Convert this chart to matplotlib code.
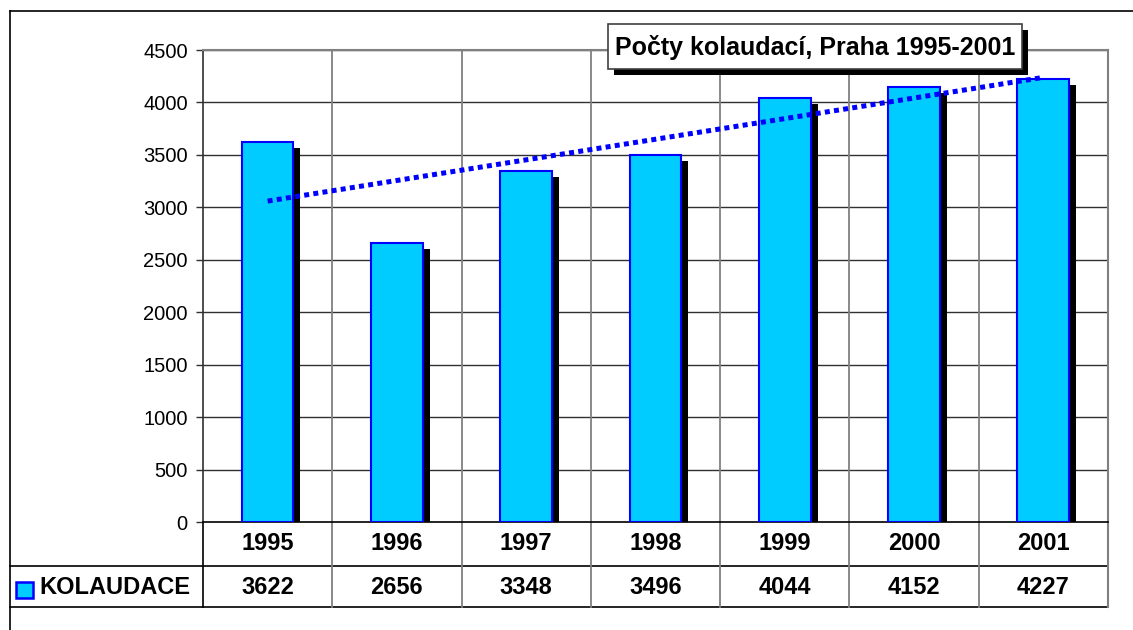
import numpy as np
import matplotlib
matplotlib.use("Agg")
import matplotlib.pyplot as plt
import matplotlib.transforms as mtransforms
from matplotlib.patches import Rectangle

years = ["1995", "1996", "1997", "1998", "1999", "2000", "2001"]
values = [3622, 2656, 3348, 3496, 4044, 4152, 4227]
series_name = "KOLAUDACE"
title = "Počty kolaudací, Praha 1995-2001"
yticks = [0, 500, 1000, 1500, 2000, 2500, 3000, 3500, 4000, 4500]

plt.rcParams['font.family'] = ['Liberation Sans', 'DejaVu Sans']

W, H = 1133, 630
fig = plt.figure(figsize=(W / 100, H / 100), dpi=100)
fig.patch.set_facecolor('white')

AX_L, AX_R, AX_T, AX_B = 203, 1108, 50, 522
ax = fig.add_axes([AX_L / W, 1 - AX_B / H, (AX_R - AX_L) / W, (AX_B - AX_T) / H])

n = len(years)
x = np.arange(n)
ax.set_xlim(-0.5, n - 0.5)
ax.set_ylim(0, 4500)

def fy(py):
    return (AX_B - py) / (AX_B - AX_T)

# gridlines
for v in yticks[1:]:
    ax.axhline(v, color='#303030', lw=1.0, zorder=1)
for b in np.arange(-0.5, n, 1.0)[1:-1]:
    ax.axvline(b, color='#808080', lw=1.3, zorder=1)

# shadows
shadow_tr = mtransforms.offset_copy(ax.transData, fig=fig, x=7, y=-6, units='dots')
bw = 0.40
ax.bar(x, values, width=bw, color='black', edgecolor='none', transform=shadow_tr, zorder=2)
ax.bar(x, values, width=bw, color='#00CCFF', edgecolor='#0000FF', linewidth=1.5, zorder=3)

# linear trend line
coef = np.polyfit(x, values, 1)
ax.plot(x, np.polyval(coef, x), color='#0000FF', lw=3.6, linestyle=(0, (1.0, 0.85)),
        dash_capstyle='butt', zorder=4)

# axes styling
for s in ['top', 'right']:
    ax.spines[s].set_color('#808080')
    ax.spines[s].set_linewidth(1.5)
ax.spines['left'].set_color('#303030')
ax.spines['bottom'].set_color('black')
ax.spines['left'].set_linewidth(1.2)
ax.spines['bottom'].set_linewidth(1.2)
ax.set_yticks(yticks)
ax.set_yticklabels([str(v) for v in yticks], fontsize=14.5)
ax.tick_params(axis='y', length=5, width=1, color='#303030', pad=6)
ax.set_xticks([])

# data table
blend = mtransforms.blended_transform_factory(ax.transData, ax.transAxes)
row1_y, row2_y = fy(566), fy(607)
left_frac = (10 - AX_L) / (AX_R - AX_L)
ax.plot([left_frac, 1], [row1_y, row1_y], transform=ax.transAxes, color='black', lw=1.2, clip_on=False)
ax.plot([left_frac, 1], [row2_y, row2_y], transform=ax.transAxes, color='black', lw=1.2, clip_on=False)
ax.plot([0, 0], [0, row2_y], transform=ax.transAxes, color='black', lw=1.2, clip_on=False)
ax.plot([1, 1], [0, row2_y], transform=ax.transAxes, color='#808080', lw=1.5, clip_on=False)
for b in np.arange(-0.5, n, 1.0)[1:-1]:
    ax.plot([b, b], [0, row2_y], transform=blend, color='#808080', lw=1.3, clip_on=False)
for i in range(n):
    ax.text(x[i], fy(544), years[i], transform=blend, ha='center', va='center',
            fontsize=17, fontweight='bold')
    ax.text(x[i], fy(587), str(values[i]), transform=blend, ha='center', va='center',
            fontsize=17, fontweight='bold')

# legend key in table
fig.patches.append(Rectangle((16 / W, 1 - 598 / H), 17 / W, 16 / H, transform=fig.transFigure,
                             facecolor='#00CCFF', edgecolor='#0000FF', lw=1.8))
fig.text(39 / W, 1 - 588 / H, series_name, ha='left', va='center', fontsize=17, fontweight='bold')

# outer border
fig.add_artist(plt.Line2D([10 / W, 1], [1 - 11 / H, 1 - 11 / H], transform=fig.transFigure,
                          color='black', lw=1.2))
fig.add_artist(plt.Line2D([10 / W, 10 / W], [0, 1 - 11 / H], transform=fig.transFigure,
                          color='black', lw=1.2))

# title box with shadow
bx0, bx1, by0, by1 = 608, 1022, 24, 69
fig.patches.append(Rectangle(((bx0 + 6) / W, 1 - (by1 + 6) / H), (bx1 - bx0) / W, (by1 - by0) / H,
                             transform=fig.transFigure, facecolor='black', edgecolor='none', zorder=10))
fig.patches.append(Rectangle((bx0 / W, 1 - by1 / H), (bx1 - bx0) / W, (by1 - by0) / H,
                             transform=fig.transFigure, facecolor='white', edgecolor='#404040',
                             lw=1.2, zorder=11))
t = fig.text((bx0 + bx1) / 2 / W, 1 - 47 / H, title, ha='center', va='center', fontsize=18,
             fontweight='bold', zorder=12)

fig.savefig('out.png', dpi=100, facecolor='white')
